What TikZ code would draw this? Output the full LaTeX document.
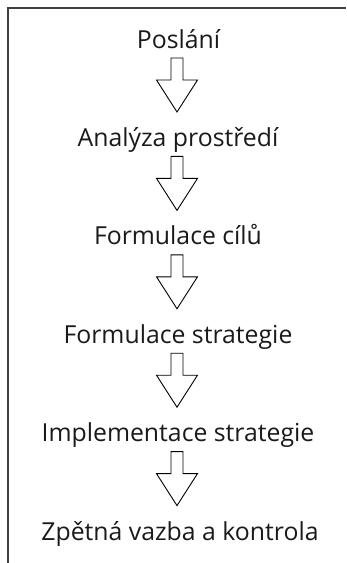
\documentclass[tikz,border=0pt]{standalone}
\usepackage{fontspec}
\setmainfont{Open Sans}
\definecolor{framegray}{HTML}{404040}
\definecolor{txt}{HTML}{1A1A1A}
\newcommand{\downarrowshape}[2]{%
  \draw[arrowline] (#1-6,#2) -- (#1+6,#2) -- (#1+6,#2+22) -- (#1+20.5,#2+22)
    -- (#1,#2+54) -- (#1-20.5,#2+22) -- (#1-6,#2+22) -- cycle;}
\begin{document}
\begin{tikzpicture}[x=1pt,y=-1pt,
  lbl/.style={font=\fontsize{24.8}{28}\selectfont, text=txt, anchor=base, inner sep=0pt},
  arrowline/.style={draw=black, line width=0.9pt, fill=white, line join=miter}]
\useasboundingbox (0,0) rectangle (346,563);
\draw[framegray, line width=1.6pt] (8,563) -- (8,8) -- (346,8);
\node[lbl] (n1) at (178.5,48) {Poslání};
\node[lbl] (n2) at (178,146.4) {Analýza prostředí};
\node[lbl] (n3) at (178,244.8) {Formulace cílů};
\node[lbl] (n4) at (178,343.2) {Formulace strategie};
\node[lbl] (n5) at (178,441.6) {Implementace strategie};
\node[lbl] (n6) at (180,540) {Zpětná vazba a kontrola};
\foreach \b in {48,146.4,244.8,343.2,441.6}{
  \pgfmathsetmacro{\yy}{\b+10}
  \downarrowshape{177}{\yy}
}
\end{tikzpicture}
\end{document}
